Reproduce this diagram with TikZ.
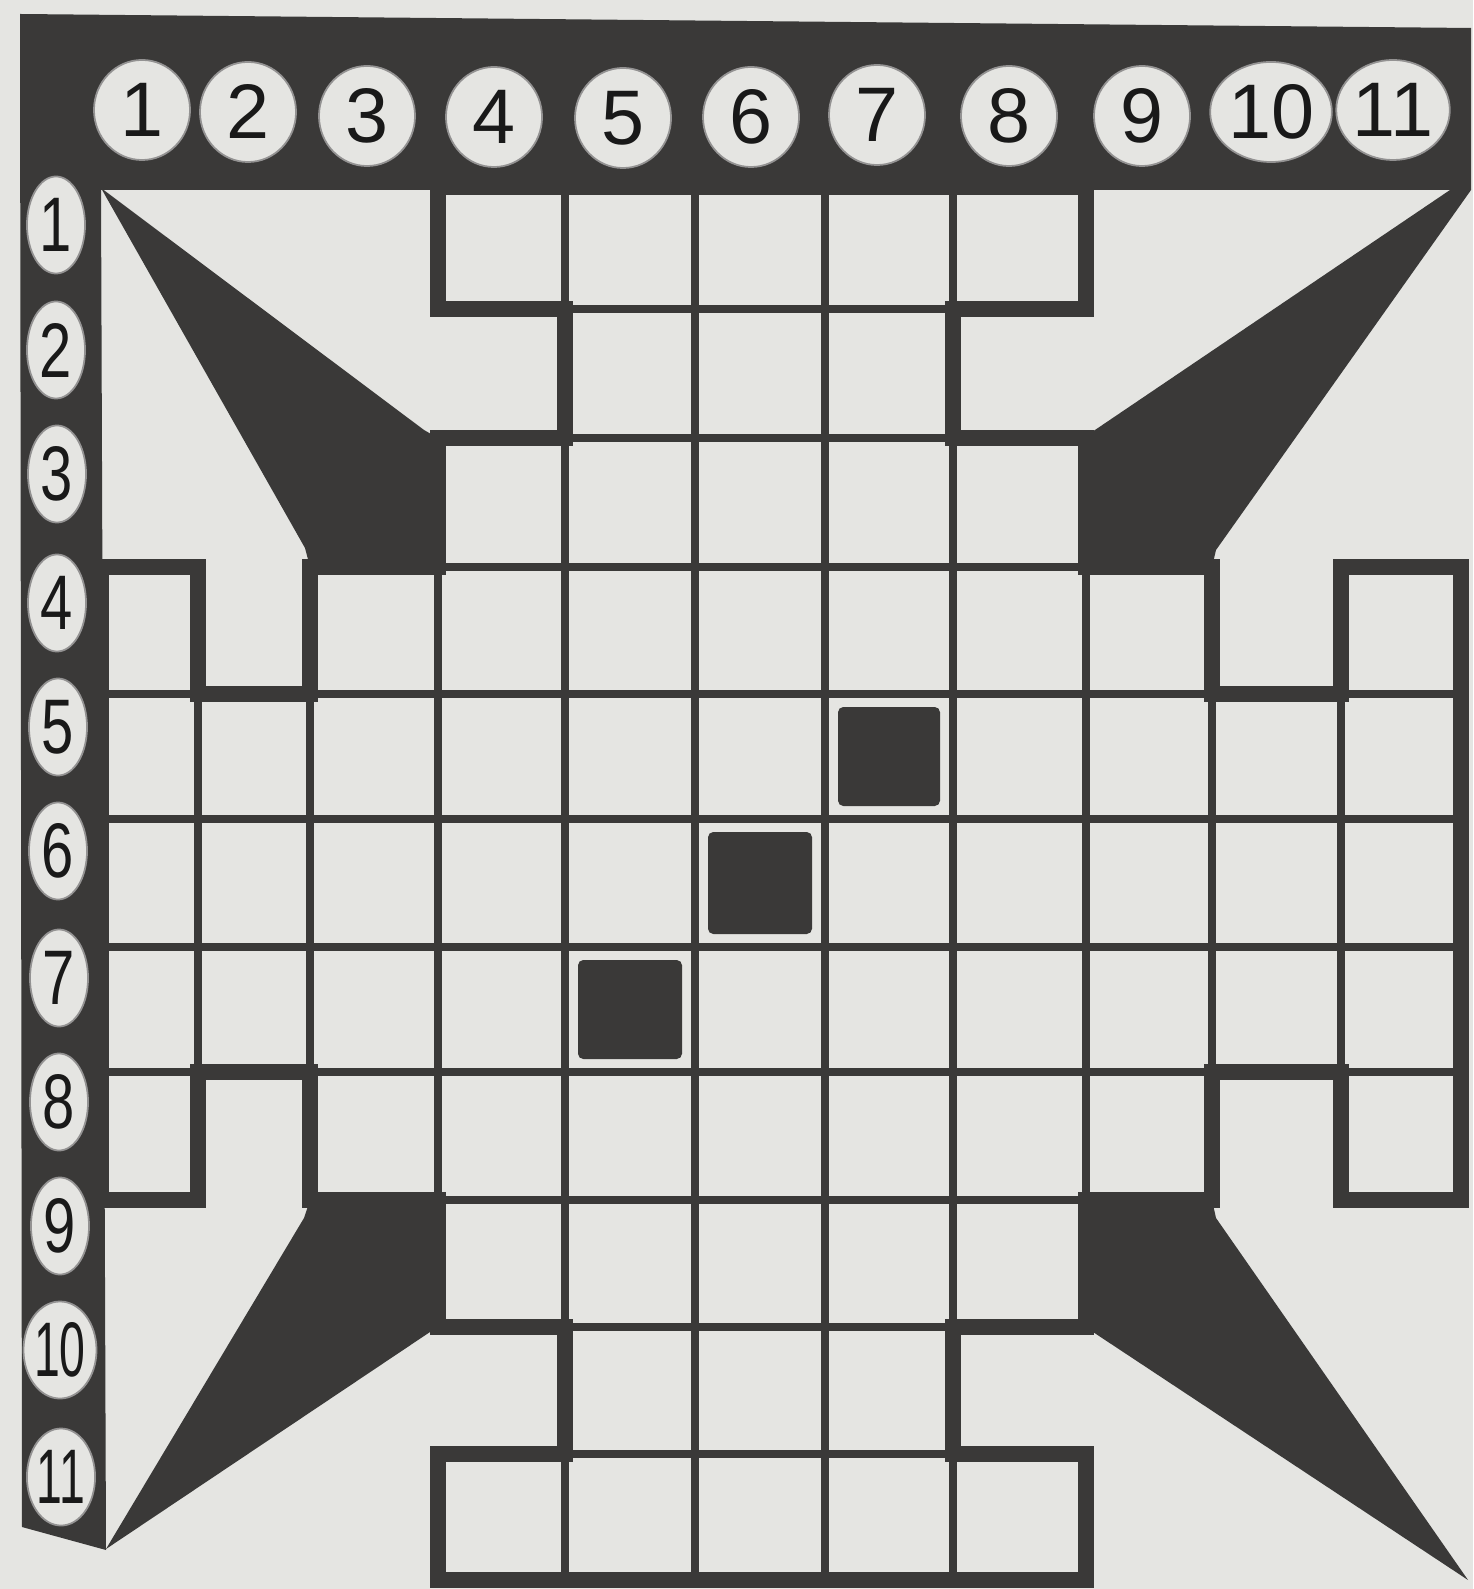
\documentclass[tikz,border=0pt]{standalone}
\usepackage{fontspec}
\usepackage{graphicx}
\setmainfont{Liberation Sans}
\usetikzlibrary{shapes.geometric}
\definecolor{paper}{RGB}{229,229,226}
\definecolor{ink}{RGB}{58,57,56}
\definecolor{digit}{RGB}{25,25,25}
\begin{document}
\begin{tikzpicture}[x=0.01cm,y=-0.01cm,
  numtop/.style={ellipse, draw=ink!55, line width=0.5pt, fill=paper, minimum width=0.96cm, minimum height=1.0cm, inner sep=0pt, text=digit, font=\fontsize{22}{22}\selectfont},
  numleft/.style={ellipse, draw=ink!55, line width=0.5pt, fill=paper, minimum width=0.58cm, minimum height=0.97cm, inner sep=0pt, text=digit, font=\fontsize{22}{22}\selectfont},
  gridline/.style={draw=ink, line width=0.08cm},
  outline/.style={draw=ink, line width=0.16cm, line join=miter},
  piece/.style={fill=ink, rounded corners=1.5pt},
  wedge/.style={fill=ink}]
\useasboundingbox (0,0) rectangle (1473,1589);
\fill[paper] (0,0) rectangle (1473,1589);
% grid coordinates
\def\xs{{101,198,310,438,565,695,825,953,1086,1212,1341,1461}}
\def\ys{{187,309,438,567,694,819,947,1072,1200,1327,1454,1580}}
\foreach \i in {0,...,11}{
  \foreach \j in {0,...,11}{
    \pgfmathsetmacro\xx{\xs[\i]}
    \pgfmathsetmacro\yy{\ys[\j]}
    \coordinate (g\i-\j) at (\xx,\yy);
  }
}
% frame
\fill[ink] (20,14) -- (1471,28) -- (1471,190) -- (101,190) -- (106,1550) -- (22,1527) -- cycle;
% wedges
\coordinate (tl) at (101,188);
\coordinate (tr) at (1471,190);
\coordinate (trb) at (1450,190);
\coordinate (bl) at (106,1549);
\coordinate (br) at (1468,1580);
\fill[wedge] (tl) -- (424,430) -- (g3-2) -- (g3-3) -- (g2-3) -- (305,548) -- cycle;
\fill[wedge] (trb) -- (tr) -- (1216,550) -- (g9-3) -- (g8-3) -- (g8-2) -- (1092,432) -- cycle;
\fill[wedge] (bl) -- (304,1218) -- (g2-8) -- (g3-8) -- (g3-9) -- (430,1332) -- cycle;
\fill[wedge] (br) -- (1216,1218) -- (g9-8) -- (g8-8) -- (g8-9) -- (1096,1334) -- cycle;
% cells
\foreach \r/\cs in {1/{4,5,6,7,8},2/{5,6,7},3/{4,5,6,7,8},4/{1,3,4,5,6,7,8,9,11},5/{1,2,3,4,5,6,7,8,9,10,11},6/{1,2,3,4,5,6,7,8,9,10,11},7/{1,2,3,4,5,6,7,8,9,10,11},8/{1,3,4,5,6,7,8,9,11},9/{4,5,6,7,8},10/{5,6,7},11/{4,5,6,7,8}}{
  \foreach \c in \cs {
    \pgfmathtruncatemacro\cp{\c-1}
    \pgfmathtruncatemacro\rp{\r-1}
    \draw[gridline, fill=paper] (g\cp-\rp) rectangle (g\c-\r);
  }
}
% outline of the cross
\draw[outline] (g3-0) -- (g8-0) -- (g8-1) -- (g7-1) -- (g7-2) -- (g8-2) -- (g8-3) -- (g9-3) -- (g9-4) -- (g10-4) -- (g10-3) -- (g11-3) -- (g11-8) -- (g10-8) -- (g10-7) -- (g9-7) -- (g9-8) -- (g8-8) -- (g8-9) -- (g7-9) -- (g7-10) -- (g8-10) -- (g8-11) -- (g3-11) -- (g3-10) -- (g4-10) -- (g4-9) -- (g3-9) -- (g3-8) -- (g2-8) -- (g2-7) -- (g1-7) -- (g1-8) -- (g0-8) -- (g0-3) -- (g1-3) -- (g1-4) -- (g2-4) -- (g2-3) -- (g3-3) -- (g3-2) -- (g4-2) -- (g4-1) -- (g3-1) -- cycle;
% top band edge over row 1
\fill[ink] (101,150) rectangle (1471,190);
% pieces
\foreach \c/\r in {7/5,6/6,5/7}{
  \pgfmathtruncatemacro\cp{\c-1}
  \pgfmathtruncatemacro\rp{\r-1}
  \fill[piece] ([shift={(13,13)}]g\cp-\rp) rectangle ([shift={(-13,-13)}]g\c-\r);
}
% column numbers
\foreach \n/\x/\y in {1/142/110,2/248/112,3/367/116,4/494/117,5/623/118,6/751/117,7/877/115,8/1009/116,9/1142/116,10/1271/112,11/1393/110}{
  \node[numtop] (t\n) at (\x,\y) {\n};
}
% row numbers
\foreach \n/\x/\y/\s in {1/56/225/0.75,2/56/350/0.75,3/57/474/0.75,4/57/603/0.75,5/58/727/0.75,6/58/851/0.75,7/59/978/0.75,8/59/1102/0.75,9/60/1226/0.75,10/60/1350/0.6,11/61/1477/0.6}{
  \node[numleft] (l\n) at (\x,\y) {\scalebox{\s}[1]{\n}};
}
\end{tikzpicture}
\end{document}
